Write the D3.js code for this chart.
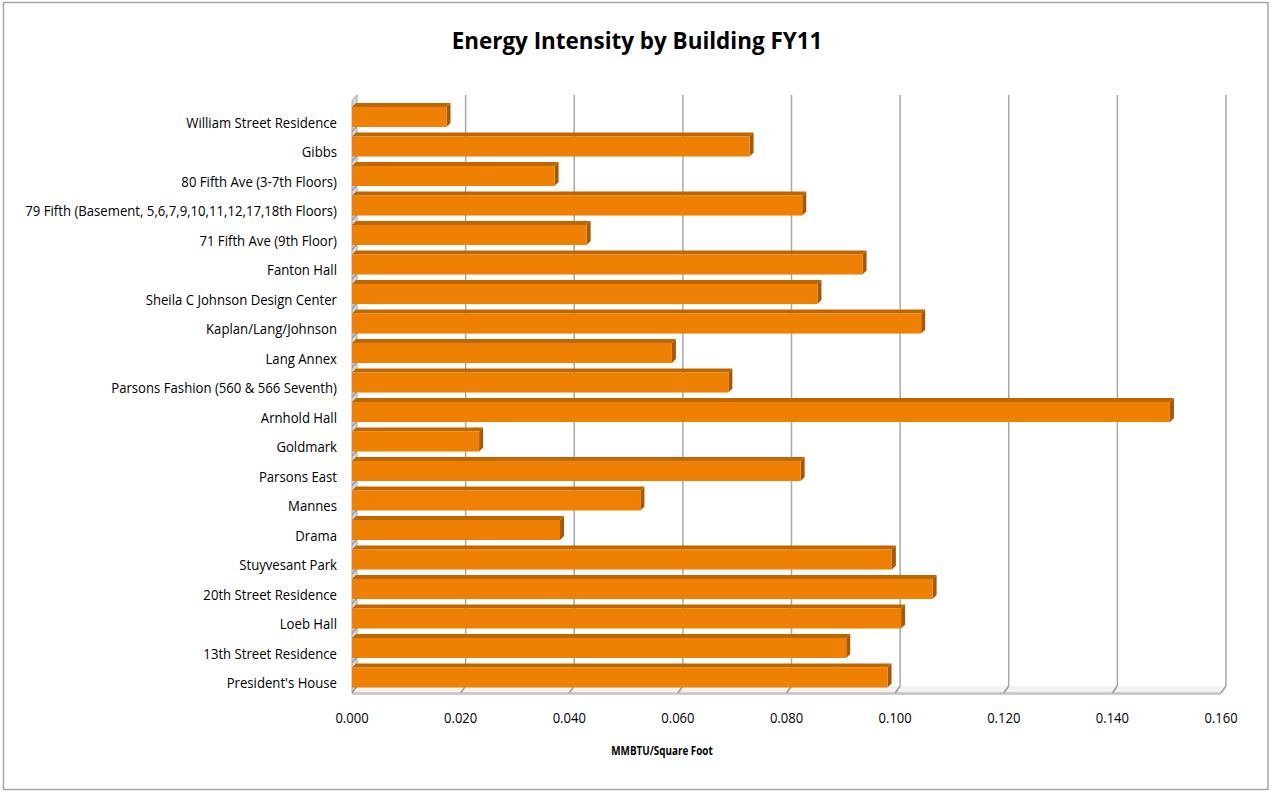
<!DOCTYPE html>
<meta charset="utf-8">
<style>
  body { margin: 0; background: #fff; }
  svg { display: block; }
  .cat, .tick-label { font: 14px "Open Sans", sans-serif; fill: #000; }
  .title { font: bold 24px "Open Sans", sans-serif; fill: #000; }
  .axis-title { font: bold 13px "Open Sans", sans-serif; fill: #000; }
</style>
<svg width="1272" height="793"></svg>
<script src="https://d3js.org/d3.v7.min.js"></script>
<script>

// top to bottom, as in the chart
var buildings = [
  "William Street Residence",
  "Gibbs",
  "80 Fifth Ave (3-7th Floors)",
  "79 Fifth (Basement, 5,6,7,9,10,11,12,17,18th Floors)",
  "71 Fifth Ave (9th Floor)",
  "Fanton Hall",
  "Sheila C Johnson Design Center",
  "Kaplan/Lang/Johnson",
  "Lang Annex",
  "Parsons Fashion (560 & 566 Seventh)",
  "Arnhold Hall",
  "Goldmark",
  "Parsons East",
  "Mannes",
  "Drama",
  "Stuyvesant Park",
  "20th Street Residence",
  "Loeb Hall",
  "13th Street Residence",
  "President's House"
];
var intensity = [
  0.0174, 0.0732, 0.0373, 0.0829, 0.0432,
  0.0940, 0.0857, 0.1048, 0.0589, 0.0693,
  0.1506, 0.0234, 0.0826, 0.0531, 0.0383,
  0.0994, 0.1069, 0.1011, 0.0910, 0.0986
];
var tickValues = [0, 0.02, 0.04, 0.06, 0.08, 0.10, 0.12, 0.14, 0.16];

var data = buildings.map(function(b, i) { return {name: b, value: intensity[i]}; });

var svg = d3.select("svg");

// 3d look: back wall is shifted up-right from the front plane
var backDx = 5, backDy = -6;
var barDx = 4, barDy = -4;
var floorY = 692, topY = 102;

// the original font (Calibri) is narrow, squeeze Open Sans a bit
function squeeze(sel, s) {
  sel.attr("transform", function(d) {
    var t = d3.select(this);
    return "translate(" + t.attr("data-x") + "," + t.attr("data-y") + ") scale(" + s + ",1)";
  });
}

var x = d3.scaleLinear().domain([0, 0.16]).range([352, 1221]);
var y = d3.scaleBand().domain(buildings)
    .range([102.25, 692.25]).paddingInner(0.32).paddingOuter(0.16);

// outer frame
svg.append("rect")
    .attr("x", 3.5).attr("y", 2.5)
    .attr("width", 1264.5).attr("height", 787)
    .attr("fill", "#fff")
    .attr("stroke", "#a6a6a6").attr("stroke-width", 1.5);

svg.append("text")
    .attr("class", "title")
    .attr("data-x", 637).attr("data-y", 49)
    .attr("text-anchor", "middle")
    .text("Energy Intensity by Building FY11")
    .call(squeeze, 0.935);

// floor
var x0 = x(0), x1 = x(0.16);
svg.append("path")
    .attr("d", "M" + x0 + "," + floorY + "L" + (x0 + backDx) + "," + (floorY + backDy) +
      "L" + (x1 + backDx) + "," + (floorY + backDy) + "L" + x1 + "," + floorY + "Z")
    .attr("fill", "#f2f2f2");
svg.append("line")
    .attr("x1", x0).attr("x2", x1)
    .attr("y1", floorY + 1.5).attr("y2", floorY + 1.5)
    .attr("stroke", "#cbcbcb").attr("stroke-width", 3);

// left wall
svg.append("path")
    .attr("d", "M" + x0 + "," + floorY + "L" + x0 + "," + (topY - 1) +
      "L" + (x0 + backDx) + "," + (topY - 1 + backDy) + "L" + (x0 + backDx) + "," + (floorY + backDy) + "Z")
    .attr("fill", "#d6d6d6")
    .attr("stroke", "#a8a8a8").attr("stroke-width", 1);

// gridlines on back wall
svg.append("g").selectAll("line")
    .data(tickValues.slice(1))
  .enter().append("line")
    .attr("x1", function(d) { return x(d) + backDx; })
    .attr("x2", function(d) { return x(d) + backDx; })
    .attr("y1", topY - 1 + backDy)
    .attr("y2", floorY + backDy)
    .attr("stroke", "#a8a8a8").attr("stroke-width", 1.5);

// diagonal ticks on the floor
svg.append("g").selectAll("line")
    .data(tickValues)
  .enter().append("line")
    .attr("x1", function(d) { return x(d) + backDx; })
    .attr("x2", function(d) { return x(d); })
    .attr("y1", floorY + backDy)
    .attr("y2", floorY + 1)
    .attr("stroke", "#9a9a9a").attr("stroke-width", 1.5);

// small ticks on left wall between categories
svg.append("g").selectAll("line")
    .data(buildings.slice(1))
  .enter().append("line")
    .attr("x1", x0).attr("x2", x0 + backDx)
    .attr("y1", function(d) { return y(d) - y.step() * 0.16; })
    .attr("y2", function(d) { return y(d) - y.step() * 0.16 + backDy; })
    .attr("stroke", "#9a9a9a").attr("stroke-width", 1.5);

// bars
var bars = svg.append("g").selectAll("g")
    .data(data)
  .enter().append("g");

bars.append("path")
    .attr("d", function(d) {
      var xe = x(d.value), yt = y(d.name);
      return "M" + x0 + "," + yt + "L" + (x0 + barDx) + "," + (yt + barDy) +
        "L" + (xe + barDx) + "," + (yt + barDy) + "L" + xe + "," + yt + "Z";
    })
    .attr("fill", "#c06600");

bars.append("path")
    .attr("d", function(d) {
      var xe = x(d.value), yt = y(d.name), yb = yt + y.bandwidth();
      return "M" + xe + "," + yt + "L" + (xe + barDx) + "," + (yt + barDy) +
        "L" + (xe + barDx) + "," + (yb + barDy) + "L" + xe + "," + yb + "Z";
    })
    .attr("fill", "#a85800");

bars.append("rect")
    .attr("x", x0)
    .attr("y", function(d) { return y(d.name); })
    .attr("width", function(d) { return x(d.value) - x0; })
    .attr("height", y.bandwidth())
    .attr("fill", "#ee8004");

// category labels
svg.append("g").selectAll("text")
    .data(buildings)
  .enter().append("text")
    .attr("class", "cat")
    .attr("data-x", 337)
    .attr("data-y", function(d) { return y(d) + y.bandwidth() / 2 + 6; })
    .attr("text-anchor", "end")
    .attr("dy", "0.35em")
    .text(function(d) { return d; })
    .call(squeeze, 0.94);

// value axis labels
svg.append("g").selectAll("text")
    .data(tickValues)
  .enter().append("text")
    .attr("class", "tick-label")
    .attr("data-x", function(d) { return x(d); })
    .attr("data-y", 718)
    .attr("dy", "0.35em")
    .attr("text-anchor", "middle")
    .text(function(d) { return d3.format(".3f")(d); })
    .call(squeeze, 0.93);

svg.append("text")
    .attr("class", "axis-title")
    .attr("data-x", 662).attr("data-y", 750)
    .attr("dy", "0.35em")
    .attr("text-anchor", "middle")
    .text("MMBTU/Square Foot")
    .call(squeeze, 0.76);
</script>
